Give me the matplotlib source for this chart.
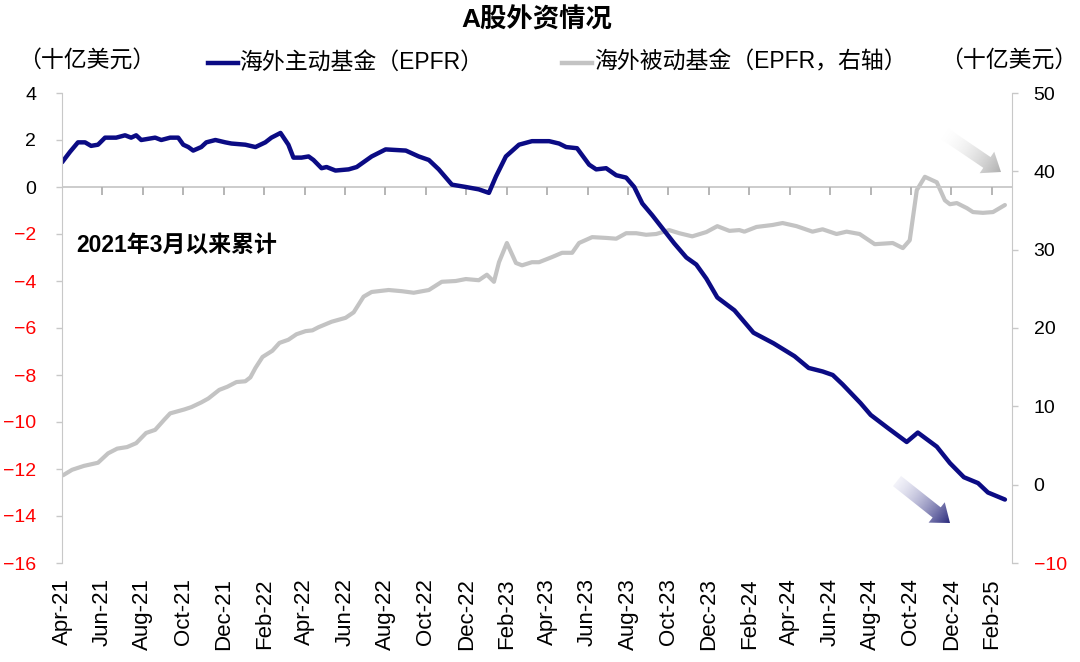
import numpy as np
import matplotlib
matplotlib.use('Agg')
import matplotlib.pyplot as plt
from matplotlib.lines import Line2D
from matplotlib.patches import Polygon

plt.rcParams['font.family'] = ['Liberation Sans', 'Noto Sans CJK SC', 'DejaVu Sans']

# months since Apr-2021
active_t = [0, 0.40, 0.79, 1.14, 1.44, 1.78, 2.13, 2.68, 3.12, 3.42, 3.67, 3.92, 4.61, 4.91,
            5.35, 5.75, 6.0, 6.25, 6.49, 6.89, 7.14, 7.59, 8.08, 8.38, 9.07, 9.57, 10.06,
            10.36, 10.81, 11.2, 11.45, 11.85, 12.2, 12.44, 12.84, 13.09, 13.53, 14.18,
            14.58, 15.32, 16.01, 17.01, 17.65, 18.15, 18.64, 19.29, 19.98, 20.62, 21.12,
            21.47, 21.96, 22.61, 23.25, 24.1, 24.59, 24.94, 25.48, 26.08, 26.43, 26.92,
            27.42, 27.91, 28.31, 28.71, 29.2, 29.7, 30.29, 30.89, 31.38, 31.88, 32.42,
            33.27, 34.21, 35.2, 36.24, 36.94, 37.63, 38.13, 38.62, 39.51, 40.01, 40.85,
            41.79, 42.34, 43.28, 43.93, 44.62, 45.32, 45.81, 46.65]
active_v = [1.05, 1.5, 1.9, 1.9, 1.75, 1.8, 2.1, 2.1, 2.2, 2.1, 2.2, 2.0, 2.1, 2.0,
            2.1, 2.1, 1.8, 1.7, 1.55, 1.7, 1.9, 2.0, 1.9, 1.85, 1.8, 1.7, 1.9,
            2.1, 2.3, 1.8, 1.25, 1.25, 1.3, 1.15, 0.8, 0.85, 0.7, 0.75,
            0.85, 1.3, 1.6, 1.55, 1.3, 1.15, 0.75, 0.1, 0.0, -0.1, -0.25,
            0.45, 1.3, 1.8, 1.95, 1.95, 1.85, 1.7, 1.65, 0.95, 0.75, 0.8,
            0.5, 0.4, 0.0, -0.7, -1.2, -1.75, -2.4, -3.0, -3.3, -3.9, -4.7,
            -5.25, -6.2, -6.65, -7.2, -7.7, -7.85, -8.0, -8.4, -9.2, -9.7, -10.25,
            -10.85, -10.45, -11.05, -11.75, -12.35, -12.6, -13.0, -13.3]

passive_t = [0.05, 0.5, 1.09, 1.44, 1.78, 2.28, 2.73, 3.22, 3.67, 4.16, 4.61, 5.06, 5.35,
             6.05, 6.4, 6.89, 7.24, 7.78, 8.18, 8.63, 9.07, 9.32, 9.57, 9.92, 10.41,
             10.76, 11.2, 11.6, 12.05, 12.39, 12.69, 13.34, 14.03, 14.43, 14.92, 15.32,
             16.16, 16.81, 17.4, 18.15, 18.79, 19.48, 19.98, 20.62, 21.02, 21.37, 21.62,
             22.01, 22.46, 22.76, 23.25, 23.6, 24.24, 24.74, 25.24, 25.58, 26.23, 26.92,
             27.42, 27.91, 28.41, 28.9, 29.4, 30.04, 30.54, 31.18, 31.88, 32.42, 33.02,
             33.51, 33.76, 34.36, 35.15, 35.65, 36.34, 37.13, 37.63, 38.32, 38.82, 39.46,
             40.21, 41.1, 41.6, 41.94, 42.29, 42.69, 43.28, 43.68, 43.93, 44.27, 44.77,
             45.07, 45.56, 46.06, 46.65]
passive_v = [1.2, 1.9, 2.4, 2.6, 2.8, 4.0, 4.6, 4.8, 5.3, 6.6, 7.0, 8.3, 9.1,
             9.6, 9.9, 10.5, 11.0, 12.1, 12.5, 13.1, 13.2, 13.7, 14.9, 16.3, 17.1,
             18.1, 18.5, 19.2, 19.6, 19.7, 20.1, 20.8, 21.3, 22.0, 24.0, 24.6,
             24.85, 24.7, 24.5, 24.85, 25.9, 26.0, 26.25, 26.1, 26.8, 25.9, 28.4,
             30.85, 28.3, 28.0, 28.4, 28.4, 29.05, 29.6, 29.6, 30.85, 31.6, 31.5,
             31.4, 32.1, 32.1, 31.9, 32.0, 32.5, 32.1, 31.7, 32.25, 33.0, 32.4,
             32.5, 32.3, 32.9, 33.15, 33.4, 33.0, 32.3, 32.6, 32.0, 32.3, 32.0,
             30.7, 30.85, 30.2, 31.2, 37.6, 39.3, 38.6, 36.3, 35.8, 35.95, 35.3,
             34.8, 34.7, 34.8, 35.7]

tick_labels = ['Apr-21', 'Jun-21', 'Aug-21', 'Oct-21', 'Dec-21', 'Feb-22', 'Apr-22', 'Jun-22',
               'Aug-22', 'Oct-22', 'Dec-22', 'Feb-23', 'Apr-23', 'Jun-23', 'Aug-23', 'Oct-23',
               'Dec-23', 'Feb-24', 'Apr-24', 'Jun-24', 'Aug-24', 'Oct-24', 'Dec-24', 'Feb-25']
tick_pos = np.arange(len(tick_labels)) * 2

NAVY = '#0b0b84'
GRAY = '#c3c3c3'
AXC = '#c8c8c8'

fig = plt.figure(figsize=(10.8, 6.62), dpi=100)
ax = fig.add_axes([62/1080, 1-563/662, 950/1080, 470/662])
ax2 = ax.twinx()

ax2.plot(passive_t, passive_v, color=GRAY, lw=3.0, solid_capstyle='round')
ax.plot(active_t, active_v, color=NAVY, lw=3.2, solid_capstyle='round')
ax.set_zorder(ax2.get_zorder() + 1)
ax.patch.set_visible(False)

ax.set_xlim(0, 47)
ax.set_ylim(-16, 4)
ax2.set_ylim(-10, 50)

# zero line with downward ticks
ax.axhline(0, color=AXC, lw=1.3, zorder=0)
ax.plot(tick_pos[1:], np.zeros(len(tick_pos) - 1), ls='none', marker=3, ms=6,
        mew=1.3, color='#b0b0b0', zorder=0)

for a in (ax, ax2):
    a.spines['top'].set_visible(False)
    a.spines['bottom'].set_visible(False)
ax.spines['right'].set_visible(False)
ax.spines['left'].set_color(AXC)
ax2.spines['left'].set_visible(False)
ax2.spines['right'].set_color(AXC)

ax.set_yticks(np.arange(-16, 5, 2))
ax.tick_params(axis='y', length=4.5, width=1, color=AXC, pad=14, labelsize=14)
for lab, v in zip(ax.get_yticklabels(), np.arange(-16, 5, 2)):
    lab.set_color('red' if v < 0 else 'black')

ax2.set_yticks(np.arange(-10, 51, 10))
ax2.tick_params(axis='y', length=4.5, width=1, color=AXC, pad=11, labelsize=14)
for lab, v in zip(ax2.get_yticklabels(), np.arange(-10, 51, 10)):
    lab.set_color('red' if v < 0 else 'black')

ax.set_xticks(tick_pos)
ax.set_xticklabels(tick_labels, rotation=90, fontsize=16)
ax.tick_params(axis='x', length=0, pad=11)

ax.text(0.015, 0.675, '2021年3月以来累计', transform=ax.transAxes, fontsize=16.5,
        fontweight='bold', va='center', ha='left')

# title, units, legend
fig.text(537/1080, 1-20/662, 'A股外资情况', ha='center', va='center',
         fontsize=19, fontweight='bold')
fig.text(18/1080, 1-60/662, '（十亿美元）', ha='left', va='center', fontsize=16.5)
fig.text(1077/1080, 1-60/662, '（十亿美元）', ha='right', va='center', fontsize=16.5)
fig.add_artist(Line2D([208/1080, 238/1080], [1-63/662]*2, color=NAVY, lw=3.2))
fig.text(239/1080, 1-62/662, '海外主动基金（EPFR）', ha='left', va='center', fontsize=16.5)
fig.add_artist(Line2D([562/1080, 592/1080], [1-63/662]*2, color=GRAY, lw=3.2))
fig.text(594/1080, 1-62/662, '海外被动基金（EPFR，右轴）', ha='left', va='center', fontsize=16.5)

# gradient arrows (pixel overlay)
ov = fig.add_axes([0, 0, 1, 1])
ov.set_xlim(0, 1080)
ov.set_ylim(662, 0)
ov.axis('off')
ov.set_zorder(5)


def grad_arrow(tail, tip, c0, c1, w=6.5, hw=13, hl=17):
    tail = np.array(tail, float)
    tip = np.array(tip, float)
    d = tip - tail
    L = np.hypot(*d)
    d = d / L
    n = np.array([-d[1], d[0]])
    base = tip - d * hl
    pts = [tail + n*w, base + n*w, base + n*hw, tip, base - n*hw, base - n*w, tail - n*w]
    poly = Polygon(pts, closed=True, facecolor='none', edgecolor='none')
    ov.add_patch(poly)
    xs = [p[0] for p in pts]
    ys = [p[1] for p in pts]
    x0, x1, y0, y1 = min(xs) - 2, max(xs) + 2, min(ys) - 2, max(ys) + 2
    gx, gy = np.meshgrid(np.linspace(x0, x1, 120), np.linspace(y0, y1, 120))
    t = ((gx - tail[0]) * d[0] + (gy - tail[1]) * d[1]) / L
    t = np.clip(t, 0, 1)[..., None]
    c0 = np.array(matplotlib.colors.to_rgba(c0))
    c1 = np.array(matplotlib.colors.to_rgba(c1))
    img = c0 * (1 - t) + c1 * t
    im = ov.imshow(img, extent=(x0, x1, y1, y0), origin='upper', interpolation='bilinear',
                   aspect='auto')
    im.set_clip_path(poly)


grad_arrow((945, 134), (1001, 172), (1, 1, 1, 0.2), '#b0b0b0')
grad_arrow((897, 481), (950, 523), (0.85, 0.85, 0.93, 0.3), '#26267a')
ov.set_xlim(0, 1080)
ov.set_ylim(662, 0)

fig.savefig('out.png', dpi=100)
